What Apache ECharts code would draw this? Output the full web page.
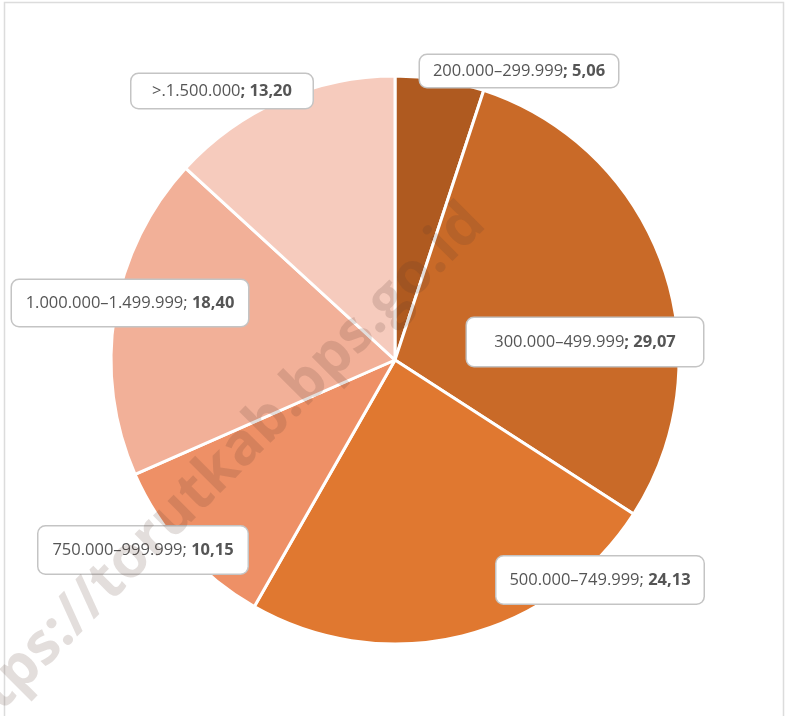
<!DOCTYPE html>
<html>
<head>
<meta charset="utf-8">
<script src="https://cdn.jsdelivr.net/npm/echarts@6/dist/echarts.min.js"></script>
<style>
  html, body { margin: 0; padding: 0; background: #fff; }
  #chart { width: 785px; height: 716px; }
</style>
</head>
<body>
<div id="chart"></div>
<script>
const categories = ['200.000–299.999', '300.000–499.999', '500.000–749.999', '750.000–999.999', '1.000.000–1.499.999', '>.1.500.000'];
const shares = [5.06, 29.07, 24.13, 10.15, 18.40, 13.20];
const shareLabels = ['5,06', '29,07', '24,13', '10,15', '18,40', '13,20'];

const colors = ['#AF5A20', '#C96A28', '#E07830', '#EE9066', '#F2B098', '#F6CBBD'];
// label box centre / size in pixels, per slice
const labelBoxes = [
  { x: 519, y: 71, w: 202, h: 36, boldSemi: true },
  { x: 585, y: 342, w: 240, h: 52, boldSemi: true },
  { x: 600, y: 580, w: 211, h: 51, boldSemi: false },
  { x: 143, y: 550, w: 213, h: 51, boldSemi: false },
  { x: 130, y: 303, w: 240, h: 50, boldSemi: false },
  { x: 222, y: 91, w: 185, h: 38, boldSemi: true }
];

const chart = echarts.init(document.getElementById('chart'));
const font = '"Open Sans", sans-serif';

chart.setOption({
  animation: false,
  graphic: [
    {
      type: 'rect',
      shape: { x: 4.5, y: 2.5, width: 779, height: 720 },
      style: { fill: null, stroke: '#dcdcdc', lineWidth: 1.5 },
      z: 0
    },
    {
      type: 'text',
      x: 476, y: 214,
      rotation: Math.PI / 4,
      z: 100,
      style: {
        text: 'https://torutkab.bps.go.id',
        font: 'bold 58px "Open Sans", sans-serif',
        fill: 'rgba(90,60,45,0.17)',
        align: 'right',
        verticalAlign: 'middle'
      }
    }
  ],
  series: [{
    type: 'pie',
    center: [395, 360],
    radius: [0, 284],
    startAngle: 90,
    clockwise: true,
    z: 2,
    itemStyle: { borderColor: '#fff', borderWidth: 3 },
    labelLine: { show: false },
    label: {
      show: true,
      position: 'outside',
      backgroundColor: '#fff',
      borderColor: '#c4c4c4',
      borderWidth: 1.5,
      borderRadius: 7,
      align: 'center',
      verticalAlign: 'middle',
      fontFamily: font,
      fontSize: 16.5,
      color: '#555',
      rich: {
        b: { fontFamily: font, fontSize: 16.5, fontWeight: 'bold', color: '#555' },
        n: { fontFamily: font, fontSize: 16.5, color: '#555' }
      }
    },
    labelLayout: (p) => {
      const b = labelBoxes[p.dataIndex];
      return { x: b.x, y: b.y, align: 'center', verticalAlign: 'middle', hideOverlap: false };
    },
    data: categories.map((c, i) => {
      const b = labelBoxes[i];
      const text = b.boldSemi
        ? `{n|${c}}{b|; ${shareLabels[i]}}`
        : `{n|${c}; }{b|${shareLabels[i]}}`;
      return {
        name: c,
        value: shares[i],
        itemStyle: { color: colors[i] },
        label: {
          formatter: text,
          width: b.w - 4,
          height: b.h - 4,
          lineHeight: b.h - 4
        }
      };
    })
  }]
});
</script>
</body>
</html>
